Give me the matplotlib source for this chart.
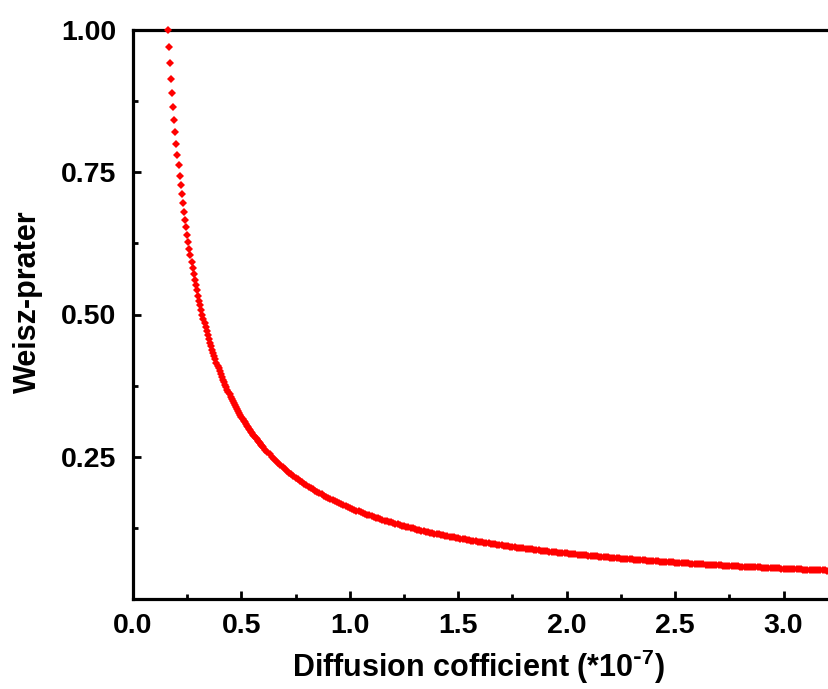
import matplotlib
matplotlib.use("Agg")
import matplotlib.pyplot as plt
from matplotlib.ticker import MultipleLocator, FixedLocator

# Diffusion coefficient (x 1e-7) and Weisz-Prater criterion values
diffusion_fine = [
    0.160, 0.165, 0.170, 0.175, 0.180, 0.185, 0.190, 0.195, 0.200, 0.205,
    0.210, 0.215, 0.220, 0.225, 0.230, 0.235, 0.240, 0.245, 0.250, 0.255,
    0.260, 0.265, 0.270, 0.275, 0.280, 0.285, 0.290, 0.295, 0.300, 0.305,
    0.310, 0.315, 0.320, 0.325, 0.330, 0.335, 0.340, 0.345, 0.350, 0.355,
    0.360, 0.365, 0.370, 0.375, 0.380, 0.385, 0.390, 0.395, 0.400, 0.405,
    0.410, 0.415, 0.420, 0.425, 0.430, 0.435, 0.440, 0.445, 0.450, 0.455,
    0.460, 0.465, 0.470, 0.475, 0.480, 0.485, 0.490, 0.495, 0.500, 0.505,
    0.510, 0.515, 0.520, 0.525, 0.530, 0.535, 0.540, 0.545, 0.550, 0.555,
    0.560, 0.565, 0.570, 0.575, 0.580, 0.585, 0.590, 0.595, 0.600,
]
wp_fine = [
    1.0000, 0.9697, 0.9412, 0.9143, 0.8889, 0.8649, 0.8421, 0.8205, 0.8000, 0.7805,
    0.7619, 0.7442, 0.7273, 0.7111, 0.6957, 0.6809, 0.6667, 0.6531, 0.6400, 0.6275,
    0.6154, 0.6038, 0.5926, 0.5818, 0.5714, 0.5614, 0.5517, 0.5424, 0.5333, 0.5246,
    0.5161, 0.5079, 0.5000, 0.4923, 0.4848, 0.4776, 0.4706, 0.4638, 0.4571, 0.4507,
    0.4444, 0.4384, 0.4324, 0.4267, 0.4211, 0.4156, 0.4103, 0.4051, 0.4000, 0.3951,
    0.3902, 0.3855, 0.3810, 0.3765, 0.3721, 0.3678, 0.3636, 0.3596, 0.3556, 0.3516,
    0.3478, 0.3441, 0.3404, 0.3368, 0.3333, 0.3299, 0.3265, 0.3232, 0.3200, 0.3168,
    0.3137, 0.3107, 0.3077, 0.3048, 0.3019, 0.2991, 0.2963, 0.2936, 0.2909, 0.2883,
    0.2857, 0.2832, 0.2807, 0.2783, 0.2759, 0.2735, 0.2712, 0.2689, 0.2667,
]

diffusion_coarse = [
    0.61, 0.62, 0.63, 0.64, 0.65, 0.66, 0.67, 0.68, 0.69, 0.70,
    0.71, 0.72, 0.73, 0.74, 0.75, 0.76, 0.77, 0.78, 0.79, 0.80,
    0.81, 0.82, 0.83, 0.84, 0.85, 0.86, 0.87, 0.88, 0.89, 0.90,
    0.91, 0.92, 0.93, 0.94, 0.95, 0.96, 0.97, 0.98, 0.99, 1.00,
    1.01, 1.02, 1.03, 1.04, 1.05, 1.06, 1.07, 1.08, 1.09, 1.10,
    1.11, 1.12, 1.13, 1.14, 1.15, 1.16, 1.17, 1.18, 1.19, 1.20,
    1.21, 1.22, 1.23, 1.24, 1.25, 1.26, 1.27, 1.28, 1.29, 1.30,
    1.31, 1.32, 1.33, 1.34, 1.35, 1.36, 1.37, 1.38, 1.39, 1.40,
    1.41, 1.42, 1.43, 1.44, 1.45, 1.46, 1.47, 1.48, 1.49, 1.50,
    1.51, 1.52, 1.53, 1.54, 1.55, 1.56, 1.57, 1.58, 1.59, 1.60,
    1.61, 1.62, 1.63, 1.64, 1.65, 1.66, 1.67, 1.68, 1.69, 1.70,
    1.71, 1.72, 1.73, 1.74, 1.75, 1.76, 1.77, 1.78, 1.79, 1.80,
    1.81, 1.82, 1.83, 1.84, 1.85, 1.86, 1.87, 1.88, 1.89, 1.90,
    1.91, 1.92, 1.93, 1.94, 1.95, 1.96, 1.97, 1.98, 1.99, 2.00,
    2.01, 2.02, 2.03, 2.04, 2.05, 2.06, 2.07, 2.08, 2.09, 2.10,
    2.11, 2.12, 2.13, 2.14, 2.15, 2.16, 2.17, 2.18, 2.19, 2.20,
    2.21, 2.22, 2.23, 2.24, 2.25, 2.26, 2.27, 2.28, 2.29, 2.30,
    2.31, 2.32, 2.33, 2.34, 2.35, 2.36, 2.37, 2.38, 2.39, 2.40,
    2.41, 2.42, 2.43, 2.44, 2.45, 2.46, 2.47, 2.48, 2.49, 2.50,
    2.51, 2.52, 2.53, 2.54, 2.55, 2.56, 2.57, 2.58, 2.59, 2.60,
    2.61, 2.62, 2.63, 2.64, 2.65, 2.66, 2.67, 2.68, 2.69, 2.70,
    2.71, 2.72, 2.73, 2.74, 2.75, 2.76, 2.77, 2.78, 2.79, 2.80,
    2.81, 2.82, 2.83, 2.84, 2.85, 2.86, 2.87, 2.88, 2.89, 2.90,
    2.91, 2.92, 2.93, 2.94, 2.95, 2.96, 2.97, 2.98, 2.99, 3.00,
    3.01, 3.02, 3.03, 3.04, 3.05, 3.06, 3.07, 3.08, 3.09, 3.10,
    3.11, 3.12, 3.13, 3.14, 3.15, 3.16, 3.17, 3.18, 3.19, 3.20,
    3.21, 3.22, 3.23, 3.24,
]
wp_coarse = [
    0.2623, 0.2581, 0.2540, 0.2500, 0.2462, 0.2424, 0.2388, 0.2353, 0.2319, 0.2286,
    0.2254, 0.2222, 0.2192, 0.2162, 0.2133, 0.2105, 0.2078, 0.2051, 0.2025, 0.2000,
    0.1975, 0.1951, 0.1928, 0.1905, 0.1882, 0.1860, 0.1839, 0.1818, 0.1798, 0.1778,
    0.1758, 0.1739, 0.1720, 0.1702, 0.1684, 0.1667, 0.1649, 0.1633, 0.1616, 0.1600,
    0.1584, 0.1569, 0.1553, 0.1538, 0.1524, 0.1509, 0.1495, 0.1481, 0.1468, 0.1455,
    0.1441, 0.1429, 0.1416, 0.1404, 0.1391, 0.1379, 0.1368, 0.1356, 0.1345, 0.1333,
    0.1322, 0.1311, 0.1301, 0.1290, 0.1280, 0.1270, 0.1260, 0.1250, 0.1240, 0.1231,
    0.1221, 0.1212, 0.1203, 0.1194, 0.1185, 0.1176, 0.1168, 0.1159, 0.1151, 0.1143,
    0.1135, 0.1127, 0.1119, 0.1111, 0.1103, 0.1096, 0.1088, 0.1081, 0.1074, 0.1067,
    0.1060, 0.1053, 0.1046, 0.1039, 0.1032, 0.1026, 0.1019, 0.1013, 0.1006, 0.1000,
    0.0994, 0.0988, 0.0982, 0.0976, 0.0970, 0.0964, 0.0958, 0.0952, 0.0947, 0.0941,
    0.0936, 0.0930, 0.0925, 0.0920, 0.0914, 0.0909, 0.0904, 0.0899, 0.0894, 0.0889,
    0.0884, 0.0879, 0.0874, 0.0870, 0.0865, 0.0860, 0.0856, 0.0851, 0.0847, 0.0842,
    0.0838, 0.0833, 0.0829, 0.0825, 0.0821, 0.0816, 0.0812, 0.0808, 0.0804, 0.0800,
    0.0796, 0.0792, 0.0788, 0.0784, 0.0780, 0.0777, 0.0773, 0.0769, 0.0766, 0.0762,
    0.0758, 0.0755, 0.0751, 0.0748, 0.0744, 0.0741, 0.0737, 0.0734, 0.0731, 0.0727,
    0.0724, 0.0721, 0.0717, 0.0714, 0.0711, 0.0708, 0.0705, 0.0702, 0.0699, 0.0696,
    0.0693, 0.0690, 0.0687, 0.0684, 0.0681, 0.0678, 0.0675, 0.0672, 0.0669, 0.0667,
    0.0664, 0.0661, 0.0658, 0.0656, 0.0653, 0.0650, 0.0648, 0.0645, 0.0643, 0.0640,
    0.0637, 0.0635, 0.0632, 0.0630, 0.0627, 0.0625, 0.0623, 0.0620, 0.0618, 0.0615,
    0.0613, 0.0611, 0.0608, 0.0606, 0.0604, 0.0602, 0.0599, 0.0597, 0.0595, 0.0593,
    0.0590, 0.0588, 0.0586, 0.0584, 0.0582, 0.0580, 0.0578, 0.0576, 0.0573, 0.0571,
    0.0569, 0.0567, 0.0565, 0.0563, 0.0561, 0.0559, 0.0557, 0.0556, 0.0554, 0.0552,
    0.0550, 0.0548, 0.0546, 0.0544, 0.0542, 0.0541, 0.0539, 0.0537, 0.0535, 0.0533,
    0.0532, 0.0530, 0.0528, 0.0526, 0.0525, 0.0523, 0.0521, 0.0519, 0.0518, 0.0516,
    0.0514, 0.0513, 0.0511, 0.0510, 0.0508, 0.0506, 0.0505, 0.0503, 0.0502, 0.0500,
    0.0498, 0.0497, 0.0495, 0.0494,
]

x_ticks = [0.0, 0.5, 1.0, 1.5, 2.0, 2.5, 3.0]
x_tick_labels = ["0.0", "0.5", "1.0", "1.5", "2.0", "2.5", "3.0"]
y_ticks = [0.25, 0.50, 0.75, 1.00]
y_tick_labels = ["0.25", "0.50", "0.75", "1.00"]

plt.rcParams["font.family"] = ["Liberation Sans", "DejaVu Sans"]
plt.rcParams["font.weight"] = "bold"
plt.rcParams["mathtext.default"] = "regular"

W, H = 829, 689
fig = plt.figure(figsize=(W / 100, H / 100), dpi=100)
# the axes run past the right edge of the canvas
ax = fig.add_axes([133 / W, 90 / H, 759 / W, 569 / H])

x_all = diffusion_fine + diffusion_coarse
y_all = wp_fine + wp_coarse
ax.plot(x_all, y_all, linestyle="none", marker="D", markersize=3.7,
        color="#ff0000", markeredgewidth=0, clip_on=False, zorder=5)

ax.set_xlim(0, 3.5)
ax.set_ylim(0, 1.0)

ax.xaxis.set_major_locator(FixedLocator(x_ticks))
ax.set_xticklabels(x_tick_labels)
ax.xaxis.set_minor_locator(FixedLocator([0.25, 0.75, 1.25, 1.75, 2.25, 2.75, 3.25]))
ax.yaxis.set_major_locator(FixedLocator(y_ticks))
ax.set_yticklabels(y_tick_labels)
ax.yaxis.set_minor_locator(FixedLocator([0.125, 0.375, 0.625, 0.875]))

for side in ("left", "bottom", "top", "right"):
    ax.spines[side].set_linewidth(2.3)
    ax.spines[side].set_color("black")

ax.tick_params(which="both", direction="in", top=False, right=False,
               width=2.0, color="black")
ax.tick_params(which="major", length=6)
ax.tick_params(which="minor", length=3.5)
ax.tick_params(axis="x", which="major", labelsize=20.5, pad=10)
ax.tick_params(axis="y", which="major", labelsize=20.5, pad=12)
for lab in ax.get_xticklabels() + ax.get_yticklabels():
    lab.set_fontweight("bold")

ax.set_xlabel(r"Diffusion cofficient (*10$^{\text{-}7}$)", fontsize=22, fontweight="bold")
ax.set_ylabel("Weisz-prater", fontsize=22, fontweight="bold")
ax.xaxis.set_label_coords((478.5 - 133) / 759, -0.085)
ax.yaxis.set_label_coords((43 - 133) / 759, 0.522)

fig.savefig("out.png", dpi=100)
